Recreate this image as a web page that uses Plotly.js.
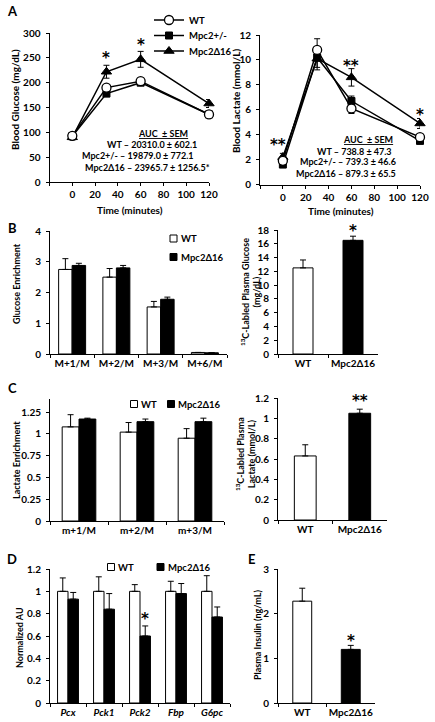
<!DOCTYPE html>
<html><head><meta charset="utf-8">
<script src="https://cdn.plot.ly/plotly-3.0.1.min.js"></script>
<style>html,body{margin:0;padding:0;background:#fff}</style>
</head><body><div id="chart" style="width:435px;height:722px"></div>
<script>
// ---------- Panel A: GTT / lactate time course ----------
const timeMin = [0, 30, 60, 120];
const timeTicks = [-20, 0, 20, 40, 60, 80, 100, 120];
const seriesNames = ['WT', 'Mpc2+/-', 'Mpc2Δ16'];
const glucoseWT = [93, 190, 203, 136];
const glucoseWTErr = [5, 6, 6, 4];
const glucoseHet = [92, 178, 200, 136];
const glucoseHetErr = [4, 6, 5, 4];
const glucoseKO = [90, 222, 247, 158];
const glucoseKOErr = [4, 13, 16, 8];
const lactateWT = [1.9, 10.8, 6.1, 3.8];
const lactateWTErr = [0.3, 0.9, 0.4, 0.2];
const lactateHet = [1.6, 10.2, 6.7, 3.5];
const lactateHetErr = [0.2, 0.8, 0.4, 0.2];
const lactateKO = [2.2, 10.1, 8.6, 4.9];
const lactateKOErr = [0.3, 0.9, 0.7, 0.4];
const aucGlucose = ['WT – 20310.0 ± 602.1', 'Mpc2+/- – 19879.0 ± 772.1', 'Mpc2Δ16 – 23965.7 ± 1256.5*'];
const aucLactate = ['WT – 738.8 ± 47.3', 'Mpc2+/- – 739.3 ± 46.6', 'Mpc2Δ16 – 879.3 ± 65.5'];

// ---------- Panel B ----------
const genotypes = ['WT', 'Mpc2Δ16'];
const glucoseIsotopologues = ['M+1/M', 'M+2/M', 'M+3/M', 'M+6/M'];
const glucoseEnrWT = [2.75, 2.5, 1.53, 0.05];
const glucoseEnrWTErr = [0.35, 0.28, 0.18, 0.0];
const glucoseEnrKO = [2.88, 2.8, 1.78, 0.04];
const glucoseEnrKOErr = [0.07, 0.08, 0.07, 0.0];
const labeledGlucose = [12.5, 16.5];
const labeledGlucoseErr = [1.15, 0.6];

// ---------- Panel C ----------
const lactateIsotopologues = ['m+1/M', 'm+2/M', 'm+3/M'];
const lactateEnrWT = [1.08, 1.02, 0.95];
const lactateEnrWTErr = [0.14, 0.11, 0.11];
const lactateEnrKO = [1.17, 1.14, 1.14];
const lactateEnrKOErr = [0.01, 0.03, 0.04];
const labeledLactate = [0.63, 1.05];
const labeledLactateErr = [0.11, 0.04];

// ---------- Panel D ----------
const genes = ['Pcx', 'Pck1', 'Pck2', 'Fbp', 'G6pc'];
const geneWT = [1, 1, 1, 1, 1];
const geneWTErr = [0.12, 0.13, 0.06, 0.09, 0.14];
const geneKO = [0.93, 0.84, 0.60, 0.98, 0.77];
const geneKOErr = [0.06, 0.14, 0.09, 0.09, 0.09];

// ---------- Panel E ----------
const insulin = [2.28, 1.2];
const insulinErr = [0.29, 0.09];

// ================= drawing =================
const W = 435, H = 722;
const FONT = 'Lato, "Open Sans", sans-serif';
const STARFONT = '"DejaVu Sans", sans-serif';
const BLK = '#000';
const px2x = p => p / W;
const px2y = p => 1 - p / H;
const dom = (a, b) => [a / W, b / W];
const domY = (top, bottom) => [1 - bottom / H, 1 - top / H];
const zeros = a => a.map(() => 0);

const tickFont = {family: FONT, size: 10, color: BLK, weight: 'bold'};
function yAx(domain, range, dtick, anchor) {
  return {domain, range, dtick, anchor, showline: true, linecolor: BLK, linewidth: 1,
    ticks: 'outside', ticklen: 3, tickcolor: BLK, tickwidth: 1, showgrid: false, zeroline: false,
    tickfont: tickFont, ticklabelstandoff: 3, fixedrange: true};
}
function xCat(domain, anchor, extra) {
  return Object.assign({domain, anchor, type: 'category', showline: true, linecolor: BLK, linewidth: 1,
    ticks: 'outside', ticklen: 3, tickcolor: BLK, tickwidth: 1, tickson: 'boundaries', tickangle: 0,
    showgrid: false, zeroline: false, tickfont: tickFont, fixedrange: true}, extra || {});
}
function xTime(domain, anchor) {
  return {domain, anchor, range: [-20, 120], tickvals: timeTicks, tickangle: 0,
    ticktext: timeTicks.map(v => v < 0 ? ' ' : String(v)),
    showline: true, linecolor: BLK, linewidth: 1, ticks: 'outside', ticklen: 3, tickcolor: BLK,
    showgrid: false, zeroline: false, tickfont: tickFont, fixedrange: true};
}
const errStyle = {color: BLK, thickness: 1, width: 3};
function errUp(arr) { return Object.assign({type: 'data', symmetric: false, array: arr, arrayminus: zeros(arr)}, errStyle); }
function errBoth(arr) { return Object.assign({type: 'data', array: arr}, errStyle); }

const markerStyles = [
  {symbol: 'circle', size: 9, color: '#fff', line: {color: BLK, width: 1.3}},
  {symbol: 'square', size: 7, color: BLK, line: {color: BLK, width: 1}},
  {symbol: 'triangle-up', size: 9, color: BLK, line: {color: BLK, width: 1}}
];
const legendIds = ['legend', 'legend2', 'legend3'];
const glucoseSets = [[glucoseWT, glucoseWTErr], [glucoseHet, glucoseHetErr], [glucoseKO, glucoseKOErr]];
const lactateSets = [[lactateWT, lactateWTErr], [lactateHet, lactateHetErr], [lactateKO, lactateKOErr]];

const traces = [];
[2, 1, 0].forEach(i => {
  traces.push({type: 'scatter', mode: 'lines+markers', x: timeMin, y: glucoseSets[i][0],
    error_y: errBoth(glucoseSets[i][1]), name: seriesNames[i], legend: legendIds[i],
    line: {color: BLK, width: 1.5}, marker: markerStyles[i], xaxis: 'x', yaxis: 'y', cliponaxis: false});
  traces.push({type: 'scatter', mode: 'lines+markers', x: timeMin, y: lactateSets[i][0],
    error_y: errBoth(lactateSets[i][1]), name: seriesNames[i], showlegend: false,
    line: {color: BLK, width: 1.5}, marker: markerStyles[i], xaxis: 'x2', yaxis: 'y2', cliponaxis: false});
});

function pairBars(cats, wt, wtErr, ko, koErr, xa, ya, w) {
  traces.push({type: 'bar', x: cats, y: wt, error_y: errUp(wtErr), width: w, offset: -w,
    marker: {color: '#fff', line: {color: BLK, width: 1}}, showlegend: false, xaxis: xa, yaxis: ya, name: 'WT'});
  traces.push({type: 'bar', x: cats, y: ko, error_y: errUp(koErr), width: w, offset: 0,
    marker: {color: BLK, line: {color: BLK, width: 1}}, showlegend: false, xaxis: xa, yaxis: ya, name: 'Mpc2Δ16'});
}
function singleBars(vals, errs, xa, ya, w) {
  traces.push({type: 'bar', x: genotypes, y: vals, error_y: errUp(errs), width: w,
    marker: {color: ['#fff', BLK], line: {color: BLK, width: 1}}, showlegend: false, xaxis: xa, yaxis: ya});
}
pairBars(glucoseIsotopologues, glucoseEnrWT, glucoseEnrWTErr, glucoseEnrKO, glucoseEnrKOErr, 'x3', 'y3', 0.305);
singleBars(labeledGlucose, labeledGlucoseErr, 'x4', 'y4', 0.4);
pairBars(lactateIsotopologues, lactateEnrWT, lactateEnrWTErr, lactateEnrKO, lactateEnrKOErr, 'x5', 'y5', 0.29);
singleBars(labeledLactate, labeledLactateErr, 'x6', 'y6', 0.4);
pairBars(genes, geneWT, geneWTErr, geneKO, geneKOErr, 'x7', 'y7', 0.29);
singleBars(insulin, insulinErr, 'x8', 'y8', 0.39);

// ---------- annotations ----------
const ann = [];
function txt(x, y, text, size, opts) {
  ann.push(Object.assign({xref: 'paper', yref: 'paper', x: px2x(x), y: px2y(y), text, showarrow: false,
    font: {family: FONT, size, color: BLK, weight: 'bold'}, xanchor: 'center', yanchor: 'middle'}, opts || {}));
}
function vtxt(x, y, text, size) { txt(x, y, text, size, {textangle: -90}); }
function star(xa, ya, x, y, text, shift) {
  ann.push({xref: xa, yref: ya, x, y, text, showarrow: false, yshift: (shift === undefined ? -3 : shift),
    font: {family: STARFONT, size: 15, color: BLK, weight: 'bold'}, xanchor: 'center', yanchor: 'middle'});
}
// panel letters
txt(12, 11, 'A', 13); txt(12, 228, 'B', 13); txt(12, 388, 'C', 13); txt(12, 559, 'D', 13); txt(251, 559, 'E', 13);
// axis titles
vtxt(15, 100, 'Blood Glucose (mg/dL)', 10);
vtxt(236, 101, 'Blood Lactate (mmol/L)', 10);
txt(130, 210, 'Time (minutes)', 10);
txt(341, 211, 'Time (minutes)', 10);
vtxt(16, 284, 'Glucose Enrichment', 9);
vtxt(250, 292, '<sup>13</sup>C-Labled Plasma Glucose<br>(mg/dL)', 9);
vtxt(16, 460, 'Lactate Enrichment', 9);
vtxt(245, 454, '<sup>13</sup>C-Labled Plasma<br>Lactate (mmol/L)', 9);
vtxt(19, 638, 'Normalized AU', 9);
vtxt(257, 635, 'Plasma Insulin (ng/mL)', 9);
// AUC boxes
txt(163, 133, '<u>AUC  ± SEM</u>', 9);
txt(152, 145, aucGlucose[0], 9);
txt(138, 156, aucGlucose[1], 9);
txt(147, 167, aucGlucose[2], 9);
txt(395, 139, '<u>AUC  ± SEM</u>', 9, {xanchor: 'right'});
txt(394, 151, aucLactate[0], 9, {xanchor: 'right'});
txt(398, 162, aucLactate[1], 9, {xanchor: 'right'});
txt(398, 173, aucLactate[2], 9, {xanchor: 'right'});
// significance stars
star('x', 'y', 30, 256, '*');
star('x', 'y', 60, 282, '*');
star('x2', 'y2', 60, 9.74, '**');
star('x2', 'y2', 120, 5.8, '*');
star('x2', 'y2', -4, 3.38, '**');
star('x4', 'y4', 1, 17.3, '*', 4);   // anchored inside range so it is drawn
star('x6', 'y6', 1, 1.2, '**');
star('x7', 'y7', 2.145, 0.78, '*');
star('x8', 'y8', 1, 1.455, '*');

// manual bar legends
const shapes = [];
function legSq(cx, cy, fill, label) {
  shapes.push({type: 'rect', xref: 'paper', yref: 'paper', x0: px2x(cx - 3.5), x1: px2x(cx + 3.5),
    y0: px2y(cy + 3.5), y1: px2y(cy - 3.5), fillcolor: fill, line: {color: BLK, width: 1}});
  txt(cx + 5, cy, label, 9.5, {xanchor: 'left'});
}
legSq(173.5, 238.5, '#fff', genotypes[0]);
legSq(173.5, 257, BLK, genotypes[1]);
legSq(134, 404, '#fff', genotypes[0]);
legSq(171, 404, BLK, genotypes[1]);
legSq(111, 567, '#fff', genotypes[0]);
legSq(160.5, 567, BLK, genotypes[1]);

const legBase = {xanchor: 'left', yanchor: 'middle', bgcolor: 'rgba(0,0,0,0)', borderwidth: 0,
  itemwidth: 30, font: {family: FONT, size: 9.5, color: BLK, weight: 'bold'}, itemclick: false, itemdoubleclick: false};
const layout = {
  width: W, height: H, margin: {l: 0, r: 0, t: 0, b: 0}, paper_bgcolor: '#fff', plot_bgcolor: 'rgba(0,0,0,0)',
  barmode: 'group', showlegend: true, font: {family: FONT, color: BLK},
  legend: Object.assign({x: px2x(149), y: px2y(20)}, legBase),
  legend2: Object.assign({x: px2x(149), y: px2y(35.5)}, legBase),
  legend3: Object.assign({x: px2x(149), y: px2y(51)}, legBase),
  xaxis: xTime(dom(49.5, 209), 'y'),
  yaxis: yAx(domY(33, 182), [0, 300], 50, 'x'),
  xaxis2: xTime(dom(260, 420), 'y2'),
  yaxis2: yAx(domY(35, 184.5), [0, 12], 2, 'x2'),
  xaxis3: xCat(dom(50, 227), 'y3'),
  yaxis3: yAx(domY(231, 354), [0, 4], 1, 'x3'),
  xaxis4: xCat(dom(278, 378), 'y4'),
  yaxis4: yAx(domY(230, 354), [0, 18], 2, 'x4'),
  xaxis5: xCat(dom(50, 224), 'y5'),
  yaxis5: yAx(domY(399, 521), [0, 1.4], 0.25, 'x5'),
  xaxis6: xCat(dom(278, 387), 'y6'),
  yaxis6: yAx(domY(398, 520), [0, 1.2], 0.2, 'x6'),
  xaxis7: xCat(dom(50, 230), 'y7', {tickvals: genes, ticktext: genes.map(g => '<i>' + g + '</i>')}),
  yaxis7: yAx(domY(569, 703), [0, 1.2], 0.2, 'x7'),
  xaxis8: xCat(dom(278, 375), 'y8'),
  yaxis8: yAx(domY(569, 703), [0, 3], 1, 'x8'),
  annotations: ann, shapes: shapes
};
Plotly.newPlot('chart', traces, layout, {displayModeBar: false, staticPlot: true});
</script></body></html>
